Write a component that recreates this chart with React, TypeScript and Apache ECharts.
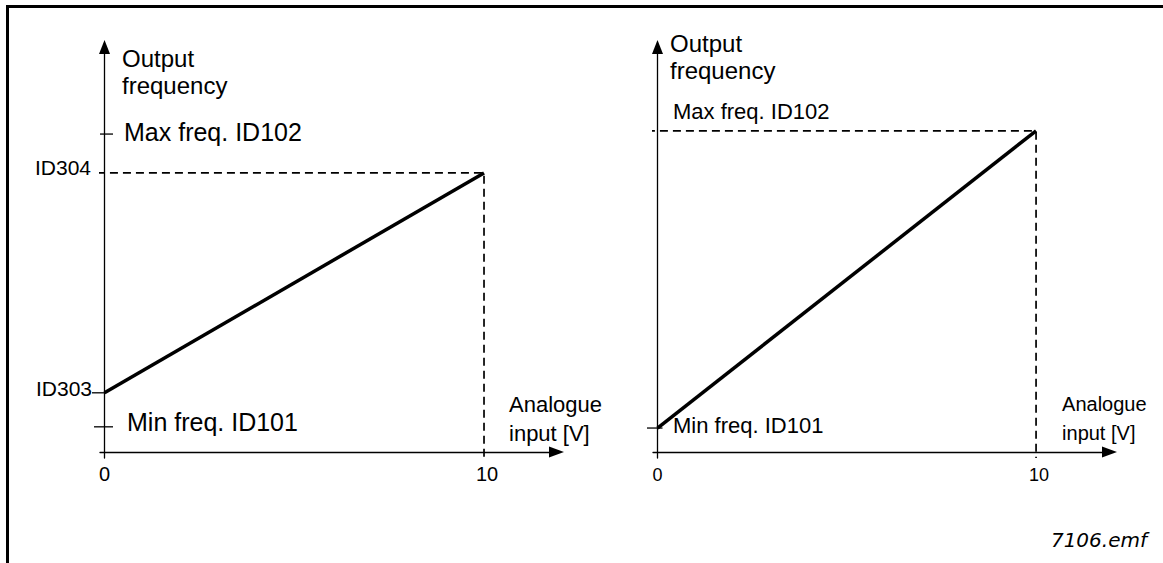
import React, { useEffect, useRef } from "react";
import * as echarts from "echarts";

// ---- data ----
const X_TICKS = [0, 10];
const X_TICK_LABELS = ["0", "10"];
const Y_TITLE = ["Output", "frequency"];
const X_TITLE = ["Analogue", "input [V]"];

// left panel: scaled by ID303 / ID304
const LEFT_LINE_X = [0, 10];
const LEFT_LINE_Y = [14.6, 68.9];
const LEFT_Y_LABELS = ["ID303", "ID304"];
const LEFT_MIN_FREQ = 6.2;
const LEFT_MAX_FREQ = 78.5;

// right panel: default scaling min..max freq
const RIGHT_LINE_X = [0, 10];
const RIGHT_LINE_Y = [5.9, 79.3];
const RIGHT_MIN_FREQ = 5.9;
const RIGHT_MAX_FREQ = 79.3;

const MIN_LABEL = "Min freq. ID101";
const MAX_LABEL = "Max freq. ID102";
const FILE_LABEL = "7106.emf";

// axis extents
const X_MIN = -0.119;
const X_MAX_L = 11.91;
const X_MAX_R = 11.94;
const Y_MIN = -1.5;
const Y_MAX = 100;

const FONT = "'Liberation Sans', Arial, Helvetica, sans-serif";
const BLACK = "#000";

function makeXAxis(gridIndex: number, max: number) {
  return {
    type: "value",
    gridIndex,
    min: X_MIN,
    max,
    axisLine: {
      show: true,
      onZero: true,
      symbol: ["none", "triangle"],
      symbolSize: [11, 15],
      lineStyle: { color: BLACK, width: 1.3 },
    },
    axisTick: { show: false },
    axisLabel: { show: false },
    splitLine: { show: false },
  };
}

function makeYAxis(gridIndex: number) {
  return {
    type: "value",
    gridIndex,
    min: Y_MIN,
    max: Y_MAX,
    axisLine: {
      show: true,
      onZero: true,
      symbol: ["none", "triangle"],
      symbolSize: [11, 14],
      lineStyle: { color: BLACK, width: 1.3 },
    },
    axisTick: { show: false },
    axisLabel: { show: false },
    splitLine: { show: false },
  };
}

function text(
  x: number,
  y: number,
  t: string,
  size: number,
  align: string = "left",
  family: string = FONT,
  fontStyle: string = "normal"
) {
  return {
    type: "text",
    x,
    y,
    silent: true,
    z: 10,
    style: {
      text: t,
      fill: BLACK,
      fontSize: size,
      fontFamily: family,
      fontStyle,
      align,
      verticalAlign: "middle",
    },
  };
}

function seg(x1: number, y1: number, x2: number, y2: number, w = 1.3) {
  return {
    type: "line",
    silent: true,
    z: 5,
    shape: { x1, y1, x2, y2 },
    style: { stroke: BLACK, lineWidth: w },
  };
}

export default function App() {
  const ref = useRef<HTMLDivElement>(null);

  useEffect(() => {
    if (!ref.current) return;
    const chart = echarts.init(ref.current, null, { renderer: "svg" });

    const dash = { color: BLACK, width: 1.7, type: [8, 5] };

    const option: any = {
      animation: false,
      backgroundColor: "#fff",
      grid: [
        { left: 100, top: 47, width: 456.5, height: 411 },
        { left: 653, top: 47, width: 456.5, height: 411 },
      ],
      xAxis: [makeXAxis(0, X_MAX_L), makeXAxis(1, X_MAX_R)],
      yAxis: [makeYAxis(0), makeYAxis(1)],
      series: [
        {
          type: "line",
          xAxisIndex: 0,
          yAxisIndex: 0,
          data: LEFT_LINE_X.map((x, i) => [x, LEFT_LINE_Y[i]]),
          symbol: "none",
          silent: true,
          clip: false,
          z: 4,
          lineStyle: { color: BLACK, width: 3.5 },
        },
        {
          type: "line",
          xAxisIndex: 0,
          yAxisIndex: 0,
          data: [
            [-0.2, LEFT_LINE_Y[1]],
            [LEFT_LINE_X[1], LEFT_LINE_Y[1]],
            [LEFT_LINE_X[1], Y_MIN],
          ],
          symbol: "none",
          silent: true,
          clip: false,
          z: 3,
          lineStyle: dash,
        },
        {
          type: "line",
          xAxisIndex: 1,
          yAxisIndex: 1,
          data: RIGHT_LINE_X.map((x, i) => [x, RIGHT_LINE_Y[i]]),
          symbol: "none",
          silent: true,
          clip: false,
          z: 4,
          lineStyle: { color: BLACK, width: 3.5 },
        },
        {
          type: "line",
          xAxisIndex: 1,
          yAxisIndex: 1,
          data: [
            [-0.28, RIGHT_MAX_FREQ],
            [RIGHT_LINE_X[1], RIGHT_MAX_FREQ],
            [RIGHT_LINE_X[1], Y_MIN],
          ],
          symbol: "none",
          silent: true,
          clip: false,
          z: 3,
          lineStyle: dash,
        },
      ],
    };
    chart.setOption(option);

    const p = (gi: number, x: number, y: number) =>
      chart.convertToPixel({ gridIndex: gi } as any, [x, y]) as number[];

    const g: any[] = [];

    // frame (top + left edges)
    g.push({
      type: "polyline",
      silent: true,
      shape: { points: [[7.5, 563], [7.5, 6.5], [1163, 6.5]] },
      style: { stroke: BLACK, lineWidth: 3, fill: "none" },
    });

    // ---- left panel ----
    {
      const o = p(0, 0, 0);
      const top = p(0, 0, Y_MAX);
      g.push(text(o[0] + 17.5, top[1] + 11, Y_TITLE[0], 24));
      g.push(text(o[0] + 17.5, top[1] + 38, Y_TITLE[1], 24));

      const yMax = p(0, 0, LEFT_MAX_FREQ)[1];
      g.push(seg(o[0] - 4.5, yMax, o[0] + 8.5, yMax));
      g.push(text(o[0] + 19.5, yMax - 2.5, MAX_LABEL, 25));

      const y304 = p(0, 0, LEFT_LINE_Y[1])[1];
      g.push(text(o[0] - 13.5, y304 - 5.5, LEFT_Y_LABELS[1], 21, "right"));

      const y303 = p(0, 0, LEFT_LINE_Y[0])[1];
      g.push(seg(o[0] - 12.5, y303, o[0], y303));
      g.push(text(o[0] - 12.5, y303 - 4, LEFT_Y_LABELS[0], 21, "right"));

      const yMin = p(0, 0, LEFT_MIN_FREQ)[1];
      g.push(seg(o[0] - 10.5, yMin, o[0] + 8.5, yMin));
      g.push(text(o[0] + 22.5, yMin - 4.5, MIN_LABEL, 25));

      X_TICKS.forEach((v, i) => {
        const px = p(0, v, 0);
        g.push(text(px[0] + (v === 0 ? 0 : 3), o[1] + 22, X_TICK_LABELS[i], 20, "center"));
      });
      const x10 = p(0, X_TICKS[1], 0)[0];
      g.push(text(x10 + 25, o[1] - 47, X_TITLE[0], 22));
      g.push(text(x10 + 25, o[1] - 18, X_TITLE[1], 22));
    }

    // ---- right panel ----
    {
      const o = p(1, 0, 0);
      const top = p(1, 0, Y_MAX);
      g.push(text(o[0] + 12.5, top[1] - 4, Y_TITLE[0], 24));
      g.push(text(o[0] + 12.5, top[1] + 23, Y_TITLE[1], 24));

      const yMax = p(1, 0, RIGHT_MAX_FREQ)[1];
      g.push(text(o[0] + 15.5, yMax - 19, MAX_LABEL, 22));

      const yMin = p(1, 0, RIGHT_MIN_FREQ)[1];
      g.push(seg(o[0] - 10.5, yMin, o[0] + 5, yMin));
      g.push(text(o[0] + 15.5, yMin - 2.5, MIN_LABEL, 22));

      X_TICKS.forEach((v, i) => {
        const px = p(1, v, 0);
        g.push(text(px[0] + (v === 0 ? 0 : 3), o[1] + 23, X_TICK_LABELS[i], 18, "center"));
      });
      const x10 = p(1, X_TICKS[1], 0)[0];
      g.push(text(x10 + 26, o[1] - 47.5, X_TITLE[0], 20));
      g.push(text(x10 + 26, o[1] - 18.5, X_TITLE[1], 20));
    }

    g.push(text(1147, 540, FILE_LABEL, 20, "right", "'DejaVu Sans', Verdana, sans-serif", "italic"));

    chart.setOption({ graphic: { elements: g } });

    return () => chart.dispose();
  }, []);

  return (
    <div
      ref={ref}
      style={{ position: "fixed", left: 0, top: 0, width: 1163, height: 563, background: "#fff" }}
    />
  );
}
